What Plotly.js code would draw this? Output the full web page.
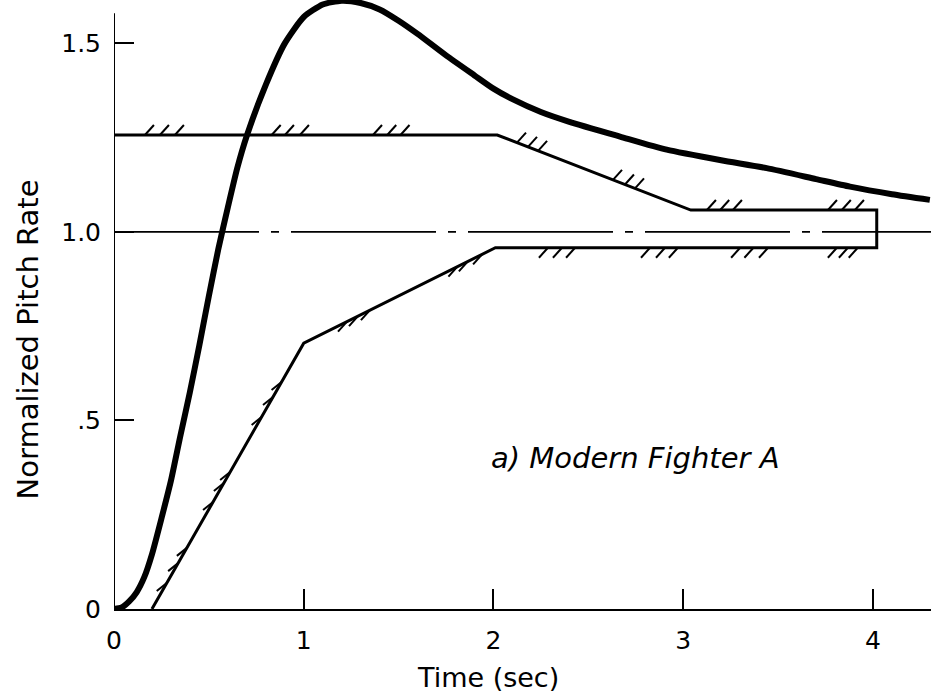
<!DOCTYPE html>
<html>
<head>
<meta charset="utf-8">
<script src="https://cdn.plot.ly/plotly-3.0.1.min.js"></script>
<style>html,body{margin:0;padding:0;background:#fff;}#chart{width:931px;height:699px;}</style>
</head>
<body>
<div id="chart"></div>
<script>
// ---- data ----
var timeResp = [0, 0.04, 0.08, 0.12, 0.16, 0.2, 0.25, 0.3, 0.35, 0.4, 0.45, 0.5, 0.55, 0.6, 0.65, 0.7, 0.8, 0.9, 1.0, 1.1, 1.2, 1.3, 1.4, 1.5, 1.6, 1.75, 1.9, 2.0, 2.1, 2.25, 2.4, 2.667, 2.913, 3.2, 3.44, 3.7, 3.879, 4.1, 4.30];
var pitchResp = [0, 0.004, 0.02, 0.045, 0.085, 0.145, 0.24, 0.34, 0.46, 0.575, 0.70, 0.83, 0.955, 1.065, 1.17, 1.255, 1.39, 1.50, 1.57, 1.603, 1.613, 1.607, 1.59, 1.56, 1.525, 1.468, 1.415, 1.38, 1.352, 1.318, 1.292, 1.253, 1.218, 1.19, 1.169, 1.14, 1.12, 1.10, 1.085];

var upperX = [0, 2.02, 3.04, 4.02];
var upperY = [1.257, 1.257, 1.058, 1.058];
var lowerX = [0.2, 1.0, 2.01, 4.02];
var lowerY = [0, 0.705, 0.958, 0.958];

var refX = [0, 4.31];
var refY = [1.0, 1.0];

var upperHatchX = [0.163, 0.242, 0.321, 0.831, 0.901, 0.98, 1.365, 1.44, 1.51,
                   2.124, 2.182, 2.235, 2.63, 2.693, 2.746, 3.125, 3.195, 3.262, 3.763, 3.836, 3.905];
var steepHatchX = [0.278, 0.338, 0.384, 0.522, 0.579, 0.612, 0.778, 0.838, 0.883];
var lowerHatchX = [1.228, 1.286, 1.349, 1.81, 1.865, 1.94,
                   2.287, 2.361, 2.43, 2.825, 2.904, 2.972, 3.30, 3.37, 3.447, 3.81, 3.868, 3.92];

var xTickVals = [0, 1, 2, 3, 4];
var xTickText = ['0', '1', '2', '3', '4'];
var yTickVals = [0, 0.5, 1.0, 1.5];
var yTickText = ['0', '.5', '1.0', '1.5'];

// ---- layout geometry ----
var W = 931, H = 699;
var M = {l: 114, r: 0, t: 0, b: 90};
var xRange = [0, 4.306];
var yRange = [0, 1.615];
var sx = (W - M.l - M.r) / (xRange[1] - xRange[0]);
var sy = (H - M.t - M.b) / (yRange[1] - yRange[0]);

function interp(xs, ys, x) {
  for (var i = 0; i < xs.length - 1; i++) {
    if (x >= xs[i] && x <= xs[i + 1]) {
      var t = (x - xs[i]) / (xs[i + 1] - xs[i]);
      return ys[i] + t * (ys[i + 1] - ys[i]);
    }
  }
  return ys[ys.length - 1];
}
function hatchTrace(xs, lineX, lineY, pxDx, pxDy) {
  var hx = [], hy = [];
  var dx = pxDx / sx, dy = pxDy / sy;
  xs.forEach(function (x) {
    var y = interp(lineX, lineY, x);
    hx.push(x, x + dx, null);
    hy.push(y, y + dy, null);
  });
  return {x: hx, y: hy, mode: 'lines', type: 'scatter', hoverinfo: 'skip',
          line: {color: '#000', width: 2}, showlegend: false, cliponaxis: false};
}

var envX = upperX.concat(lowerX.slice().reverse());
var envY = upperY.concat(lowerY.slice().reverse());

var traces = [
  {x: refX, y: refY, mode: 'lines', type: 'scatter', name: 'reference',
   line: {color: '#000', width: 1.6, dash: '145px,12px,8px,12px'}, showlegend: false},
  {x: envX, y: envY, mode: 'lines', type: 'scatter', name: 'boundary',
   line: {color: '#000', width: 3}, showlegend: false},
  hatchTrace(upperHatchX, upperX, upperY, 9, 10),
  hatchTrace(lowerHatchX, lowerX, lowerY, -9, -10),
  hatchTrace(steepHatchX, lowerX, lowerY, -10, -8),
  {x: timeResp, y: pitchResp, mode: 'lines', type: 'scatter', name: 'response',
   line: {color: '#000', width: 6, shape: 'spline', smoothing: 0.6}, showlegend: false, cliponaxis: false}
];

var fontFam = 'DejaVu Sans, sans-serif';
var layout = {
  width: W, height: H,
  margin: M,
  paper_bgcolor: '#fff', plot_bgcolor: '#fff',
  showlegend: false,
  xaxis: {
    range: xRange, showgrid: false, zeroline: false,
    showline: true, linecolor: '#000', linewidth: 2,
    ticks: 'inside', ticklen: 20, tickwidth: 2, tickcolor: '#000',
    tickvals: xTickVals, ticktext: xTickText,
    tickfont: {family: fontFam, size: 25, color: '#000'},
    ticklabelstandoff: 8
  },
  yaxis: {
    range: yRange, showgrid: false, zeroline: false, showline: false,
    ticks: 'inside', ticklen: 20, tickwidth: 2, tickcolor: '#000',
    tickvals: yTickVals, ticktext: yTickText,
    tickfont: {family: fontFam, size: 25, color: '#000'},
    ticklabelstandoff: 12
  },
  shapes: [
    {type: 'line', xref: 'x', yref: 'y', x0: 0, x1: 0, y0: 0, y1: 1.58,
     line: {color: '#000', width: 2}}
  ],
  annotations: [
    {text: 'Normalized Pitch Rate', xref: 'paper', yref: 'paper', x: -0.105, y: 0.443,
     xanchor: 'center', yanchor: 'middle', textangle: -90, showarrow: false,
     font: {family: fontFam, size: 29, color: '#000'}},
    {text: 'Time (sec)', xref: 'x', yref: 'paper', x: 1.97, y: -0.113,
     xanchor: 'center', yanchor: 'middle', showarrow: false,
     font: {family: fontFam, size: 27, color: '#000'}},
    {text: '<i>a) Modern Fighter A</i>', xref: 'x', yref: 'y', x: 2.75, y: 0.40,
     xanchor: 'center', yanchor: 'middle', showarrow: false,
     font: {family: fontFam, size: 29, color: '#000'}}
  ]
};

Plotly.newPlot('chart', traces, layout, {displayModeBar: false, staticPlot: true});
</script>
</body>
</html>
